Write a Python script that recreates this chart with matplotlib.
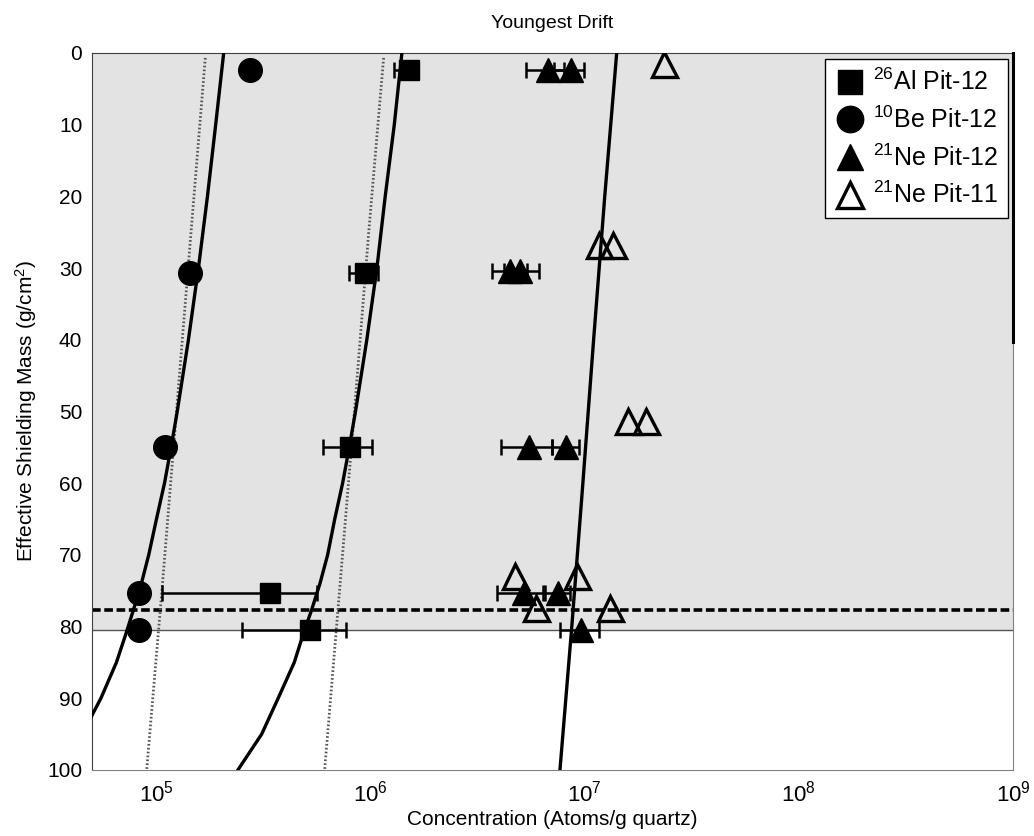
import matplotlib.pyplot as plt
import numpy as np
from matplotlib.lines import Line2D

plt.rcParams['font.family'] = ['Liberation Sans', 'DejaVu Sans']
plt.rcParams['mathtext.fontset'] = 'custom'
plt.rcParams['mathtext.rm'] = 'Liberation Sans'
plt.rcParams['mathtext.it'] = 'Liberation Sans'

# 26Al Pit-12 (squares, with error bars)
al_depth = [2.4, 30.7, 55.0, 75.3, 80.5]
al_conc = [1.51e6, 9.4e5, 8.0e5, 3.4e5, 5.2e5]
al_lo = [1.28e6, 7.9e5, 6.0e5, 1.06e5, 2.5e5]
al_hi = [1.62e6, 1.08e6, 1.02e6, 5.6e5, 7.7e5]

# 10Be Pit-12 (circles)
be_depth = [2.4, 30.7, 55.0, 75.3, 80.5]
be_conc = [2.72e5, 1.44e5, 1.09e5, 8.3e4, 8.3e4]

# 21Ne Pit-12 (filled triangles, with error bars)
ne12_depth = [2.4, 2.4, 30.4, 30.4, 55.0, 55.0, 75.3, 75.3, 80.5]
ne12_conc = [6.7e6, 8.6e6, 4.5e6, 5.0e6, 5.5e6, 8.2e6, 5.2e6, 7.5e6, 9.6e6]
ne12_lo = [5.3e6, 7.2e6, 3.7e6, 4.2e6, 4.05e6, 7.05e6, 3.9e6, 6.5e6, 7.7e6]
ne12_hi = [8.0e6, 9.9e6, 5.4e6, 6.1e6, 7.0e6, 9.4e6, 6.4e6, 8.5e6, 1.16e7]

# 21Ne Pit-11 (open triangles)
ne11_depth = [1.5, 26.8, 26.8, 51.4, 51.4, 73.0, 73.0, 77.4, 77.4]
ne11_conc = [2.35e7, 1.16e7, 1.36e7, 1.59e7, 1.93e7, 4.7e6, 9.2e6, 5.9e6, 1.31e7]

# model curves (solid)
be_model_depth = [0, 10, 20, 30, 40, 50, 55, 60, 65, 70, 74, 77.7, 81, 85, 90, 95]
be_model_conc = [2.06e5, 1.89e5, 1.73e5, 1.57e5, 1.41e5, 1.25e5, 1.17e5, 1.09e5,
                 1.0e5, 9.2e4, 8.5e4, 7.8e4, 7.2e4, 6.5e4, 5.5e4, 4.5e4]
al_model_depth = [0, 10, 20, 30, 40, 50, 55, 60, 65, 70, 74, 77.7, 81, 85, 90, 95, 100]
al_model_conc = [1.40e6, 1.29e6, 1.17e6, 1.07e6, 9.6e5, 8.5e5, 7.95e5, 7.4e5, 6.8e5,
                 6.3e5, 5.8e5, 5.3e5, 4.85e5, 4.4e5, 3.7e5, 3.1e5, 2.4e5]
ne_model_depth = [0, 20, 40, 60, 80, 100]
ne_model_conc = [1.41e7, 1.24e7, 1.10e7, 9.8e6, 8.7e6, 7.66e6]

# dotted curves
be_dot_depth = [0.7, 25, 50, 75, 100]
be_dot_conc = [1.69e5, 1.45e5, 1.24e5, 1.06e5, 9.0e4]
al_dot_depth = [0.7, 25, 50, 75, 100]
al_dot_conc = [1.15e6, 9.8e5, 8.4e5, 7.16e5, 6.1e5]

edge_line_depth = [0, 40.3]
edge_line_conc = [1e9, 1e9]

shade_bottom = 80.5
dash_depth = 77.7

fig = plt.figure(figsize=(10.34, 8.36), dpi=100)
ax = fig.add_axes([0.089, 0.079, 0.8907, 0.8577])

ax.axhspan(0, shade_bottom, color='#e3e3e3', zorder=0, lw=0)
ax.axhline(shade_bottom, color='#555555', lw=1, zorder=1)
ax.axhline(dash_depth, color='k', lw=2.6, ls=(0, (2.4, 1.0)), zorder=2)

ax.plot(be_dot_conc, be_dot_depth, color='#555555', lw=2, ls=(0, (0.6, 0.8)), zorder=2)
ax.plot(al_dot_conc, al_dot_depth, color='#555555', lw=2, ls=(0, (0.6, 0.8)), zorder=2)
ax.plot(be_model_conc, be_model_depth, color='k', lw=2.4, zorder=3)
ax.plot(al_model_conc, al_model_depth, color='k', lw=2.4, zorder=3)
ax.plot(ne_model_conc, ne_model_depth, color='k', lw=2.4, zorder=3)
ax.plot(edge_line_conc, edge_line_depth, color='k', lw=2.2, zorder=5, clip_on=False)

al_err = [np.array(al_conc) - np.array(al_lo), np.array(al_hi) - np.array(al_conc)]
ax.errorbar(al_conc, al_depth, xerr=al_err, fmt='none', ecolor='k',
            elinewidth=1.8, capsize=6, capthick=1.8, zorder=4)
ne_err = [np.array(ne12_conc) - np.array(ne12_lo), np.array(ne12_hi) - np.array(ne12_conc)]
ax.errorbar(ne12_conc, ne12_depth, xerr=ne_err, fmt='none', ecolor='k',
            elinewidth=1.8, capsize=6, capthick=1.8, zorder=4)

ax.plot(al_conc, al_depth, 's', ms=15, mfc='k', mec='k', zorder=5)
ax.plot(be_conc, be_depth, 'o', ms=17, mfc='k', mec='k', zorder=5)
ax.plot(ne12_conc, ne12_depth, '^', ms=17, mfc='k', mec='k', zorder=5)
ax.plot(ne11_conc, ne11_depth, '^', ms=18, mfc='none', mec='k', mew=2.4, zorder=5)

ax.set_xscale('log')
ax.set_xlim(5e4, 1e9)
ax.set_ylim(100, 0)
ax.set_yticks(range(0, 101, 10))
ax.set_xticks([1e5, 1e6, 1e7, 1e8, 1e9])
ax.minorticks_off()
ax.tick_params(length=0, labelsize=15, pad=7)
ax.tick_params(axis='x', labelsize=16, pad=8)

for side in ['left', 'top']:
    ax.spines[side].set_color('#404040')
for side in ['right', 'bottom']:
    ax.spines[side].set_color('#808080')

ax.set_title('Youngest Drift', fontsize=14, pad=18)
ax.set_xlabel('Concentration (Atoms/g quartz)', fontsize=15, labelpad=2)
ax.set_ylabel('Effective Shielding Mass (g/cm$^2$)', fontsize=15, labelpad=6)

handles = [
    Line2D([], [], ls='none', marker='s', ms=17, mfc='k', mec='k'),
    Line2D([], [], ls='none', marker='o', ms=19, mfc='k', mec='k'),
    Line2D([], [], ls='none', marker='^', ms=19, mfc='k', mec='k'),
    Line2D([], [], ls='none', marker='^', ms=19, mfc='none', mec='k', mew=2.4),
]
labels = ['$^{26}$Al Pit-12', '$^{10}$Be Pit-12', '$^{21}$Ne Pit-12', '$^{21}$Ne Pit-11']
leg = ax.legend(handles, labels, loc='upper right', bbox_to_anchor=(0.9946, 0.9916),
                borderaxespad=0, fontsize=18, frameon=True, fancybox=False,
                edgecolor='k', framealpha=1, handlelength=1.2, handletextpad=0.3,
                labelspacing=0.45, borderpad=0.4)
leg.get_frame().set_linewidth(1)
leg.set_zorder(10)

fig.savefig('out.png', dpi=100)
